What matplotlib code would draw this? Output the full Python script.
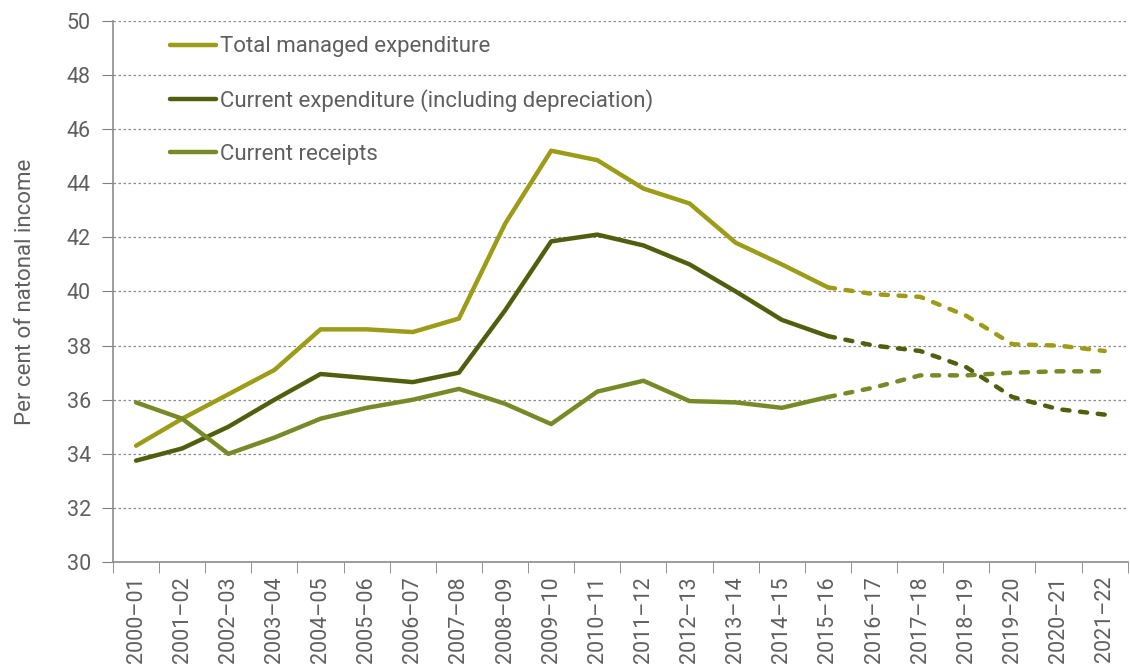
import matplotlib.pyplot as plt
import numpy as np

plt.rcParams['font.family'] = ['Roboto', 'DejaVu Sans']

years = ["2000–01", "2001–02", "2002–03", "2003–04", "2004–05", "2005–06", "2006–07",
         "2007–08", "2008–09", "2009–10", "2010–11", "2011–12", "2012–13", "2013–14",
         "2014–15", "2015–16", "2016–17", "2017–18", "2018–19", "2019–20", "2020–21",
         "2021–22"]

total_managed = [34.3, 35.3, 36.2, 37.1, 38.6, 38.6, 38.5, 39.0, 42.5, 45.2, 44.85,
                 43.8, 43.25, 41.8, 41.0, 40.15, 39.9, 39.8, 39.1, 38.05, 38.0, 37.8]
current_exp = [33.75, 34.2, 35.0, 36.0, 36.95, 36.8, 36.65, 37.0, 39.3, 41.85, 42.1,
               41.7, 41.0, 40.0, 38.95, 38.35, 38.0, 37.8, 37.2, 36.1, 35.65, 35.45]
current_rec = [35.9, 35.3, 34.0, 34.6, 35.3, 35.7, 36.0, 36.4, 35.85, 35.1, 36.3,
               36.7, 35.95, 35.9, 35.7, 36.1, 36.45, 36.9, 36.9, 37.0, 37.05, 37.05]

labels = ["Total managed expenditure", "Current expenditure (including depreciation)",
          "Current receipts"]
colors = ["#9c9c18", "#4f5f0e", "#778a28"]
split = 15  # last outturn year, projections after this are dashed

grey = "#5f5f5f"
fig = plt.figure(figsize=(11.3, 6.7), dpi=100)
ax = fig.add_axes([0.1, 0.161, 0.898, 0.808])

x = np.arange(len(years))
for vals, lab, col in zip([total_managed, current_exp, current_rec], labels, colors):
    ax.plot(x[:split + 1], vals[:split + 1], color=col, lw=3.2, label=lab,
            solid_capstyle="round", solid_joinstyle="round", zorder=3)
    ax.plot(x[split:], vals[split:], color=col, lw=3.2, ls=(0, (1.6, 2.4)),
            dash_capstyle="round", zorder=3)

ax.set_xlim(-0.5, len(years) - 0.5)
ax.set_ylim(30, 50)
ax.set_yticks(np.arange(30, 51, 2))
ax.set_xticks(x)
ax.set_xticklabels(years, rotation=90, fontsize=15.5, color=grey)
ax.set_xticks(np.arange(-0.5, len(years), 1), minor=True)
ax.tick_params(axis="x", which="major", length=0, pad=10)
ax.tick_params(axis="x", which="minor", length=8, color="#808080")
ax.tick_params(axis="y", length=8, color="#808080", labelsize=15.5, labelcolor=grey, pad=8)
ax.yaxis.grid(True, ls=(0, (2, 2)), color="#8c8c8c", lw=0.9)
ax.set_axisbelow(True)

for side in ["top", "right"]:
    ax.spines[side].set_visible(False)
for side in ["left", "bottom"]:
    ax.spines[side].set_color("#8c8c8c")
    ax.spines[side].set_linewidth(1.2)

ax.set_ylabel("Per cent of natonal income", fontsize=16, color=grey, labelpad=22)

ax.legend(loc="upper left", bbox_to_anchor=(0.036, 1.008), frameon=False, fontsize=16,
          labelcolor=grey, handlelength=2.1, handletextpad=0.15, labelspacing=1.42)

fig.savefig("out.png", dpi=100)
